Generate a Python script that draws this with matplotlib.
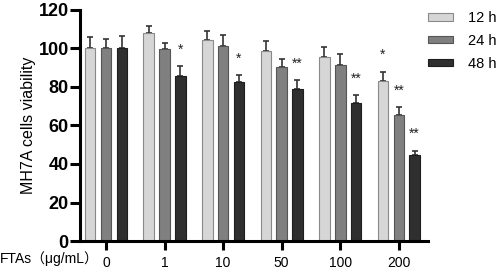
import matplotlib
matplotlib.use("Agg")
import matplotlib.pyplot as plt
import numpy as np

plt.rcParams['font.family'] = ['Liberation Sans', 'Noto Sans CJK SC', 'DejaVu Sans']

# data
doses = ['0', '1', '10', '50', '100', '200']
times = ['12 h', '24 h', '48 h']
mean_12h = [100, 108, 104.5, 98.5, 95.5, 83]
mean_24h = [100, 99.5, 101.5, 90.5, 91.5, 65.5]
mean_48h = [100, 85.5, 82.5, 79, 71.5, 44.5]
err_12h = [6, 3.5, 4.5, 5.5, 5.5, 5]
err_24h = [5, 3.5, 5.5, 4, 5.5, 4]
err_48h = [6.5, 5.5, 3.5, 4.5, 4.5, 2.5]
# significance marks per group: (series index, label)
marks = {1: [(2, '*')], 2: [(2, '*')], 3: [(2, '**')], 4: [(2, '**')],
         5: [(0, '*'), (1, '**'), (2, '**')]}

means = [mean_12h, mean_24h, mean_48h]
errs = [err_12h, err_24h, err_48h]
colors = ['#d6d6d6', '#808080', '#2f2f2f']
edges = ['#8a8a8a', '#555555', '#1e1e1e']

fig = plt.figure(figsize=(4.98, 2.70), dpi=100)
ax = fig.add_axes([0.1606, 0.1074, 0.6984, 0.8556])

x = np.arange(len(doses))
width = 0.18
offsets = [-0.27, 0, 0.27]
for i in range(3):
    ax.bar(x + offsets[i], means[i], width, color=colors[i], edgecolor=edges[i],
           linewidth=0.8, label=times[i], zorder=2)
    ax.errorbar(x + offsets[i], means[i], yerr=[np.zeros(len(doses)), errs[i]],
                fmt='none', ecolor='#333333', elinewidth=1.2, capsize=2.2,
                capthick=1.2, zorder=1)

for g, items in marks.items():
    for s, lab in items:
        ax.text(x[g] + offsets[s], means[s][g] + errs[s][g] + 8.5, lab,
                ha='center', va='center', fontsize=10, color='#222222')

ax.set_ylim(0, 120)
ax.set_xlim(-0.444, 5.495)
ax.set_yticks([0, 20, 40, 60, 80, 100, 120])
ax.set_xticks(x)
ax.set_xticklabels(doses, fontsize=10)
for t in ax.get_yticklabels():
    t.set_fontweight('bold')
    t.set_fontsize(13)

for side in ['top', 'right']:
    ax.spines[side].set_visible(False)
for side in ['left', 'bottom']:
    ax.spines[side].set_linewidth(2.2)
ax.tick_params(axis='both', width=2.2, length=7, pad=1)
ax.tick_params(axis='x', length=6.5, pad=4)

ax.set_ylabel('MH7A cells viability', fontsize=11.5, labelpad=2)
fig.text(0.0, 0.042, 'FTAs（μg/mL）', fontsize=10, va='center', ha='left')

ax.legend(loc='upper left', bbox_to_anchor=(0.985, 1.02), frameon=False,
          fontsize=10.5, handlelength=1.7, handleheight=0.4, labelspacing=0.6,
          handletextpad=1.0, borderaxespad=0)

fig.savefig('out.png', dpi=100)
